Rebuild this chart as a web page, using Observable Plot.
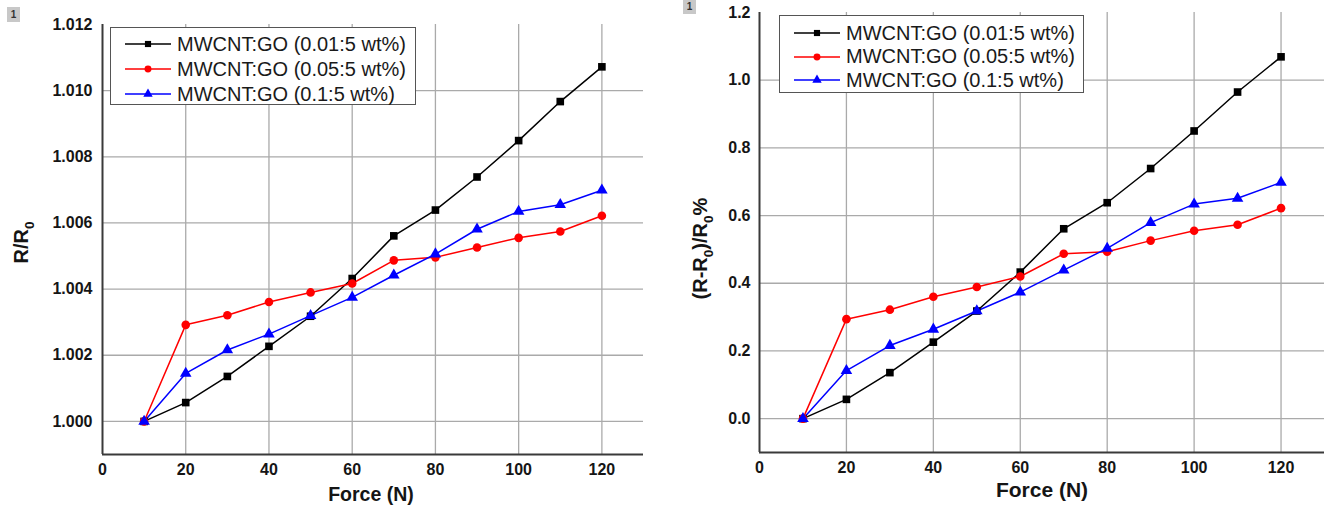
<!DOCTYPE html>
<html>
<head>
<meta charset="utf-8">
<script src="https://cdn.jsdelivr.net/npm/d3@7"></script>
<script src="https://cdn.jsdelivr.net/npm/@observablehq/plot@0.6"></script>
<style>
  html, body { margin: 0; padding: 0; background: #fff; }
  #wrap { position: relative; width: 1333px; height: 515px; overflow: hidden; font-family: "Liberation Sans", Arial, sans-serif; }
  .panel { position: absolute; top: 0; }
  .legend { position: absolute; background: #fff; border: 1.5px solid #555; box-sizing: border-box; }
  .legrow { position: absolute; left: 0; height: 24px; display: flex; align-items: center; font-size: 20px; color: #1a1a1a; white-space: nowrap; }
  .legrow svg { margin-right: 6px; }
  .icon { position: absolute; background: #c8c8c8; color: #333; font-size: 10px; font-weight: bold; text-align: center; box-sizing: border-box; }
</style>
</head>
<body>
<div id="wrap"></div>
<script>
// ---- data ----
const force = [10, 20, 30, 40, 50, 60, 70, 80, 90, 100, 110, 120];
const seriesNames = ["MWCNT:GO (0.01:5 wt%)", "MWCNT:GO (0.05:5 wt%)", "MWCNT:GO (0.1:5 wt%)"];
const seriesColors = ["#000000", "#ff0000", "#0000ff"];
const seriesSymbols = ["square", "circle", "triangle"];

// left panel: R/R0
const ratioBlack = [1.0000, 1.00057, 1.00136, 1.00227, 1.00318, 1.00432, 1.00561, 1.00639, 1.00739, 1.00849, 1.00967, 1.01072];
const ratioRed   = [1.0000, 1.00292, 1.00321, 1.00361, 1.00390, 1.00417, 1.00487, 1.00496, 1.00526, 1.00555, 1.00574, 1.00622];
const ratioBlue  = [1.0000, 1.00145, 1.00216, 1.00264, 1.00320, 1.00375, 1.00442, 1.00506, 1.00581, 1.00635, 1.00655, 1.00699];

// right panel: (R-R0)/R0 %
const pctBlack = [0, 0.057, 0.136, 0.226, 0.318, 0.433, 0.561, 0.638, 0.739, 0.850, 0.965, 1.069];
const pctRed   = [0, 0.294, 0.322, 0.360, 0.389, 0.420, 0.487, 0.493, 0.526, 0.555, 0.573, 0.622];
const pctBlue  = [0, 0.142, 0.216, 0.264, 0.318, 0.374, 0.439, 0.503, 0.579, 0.634, 0.651, 0.698];

const xTicks = [0, 20, 40, 60, 80, 100, 120];
const xGridTicks = [20, 40, 60, 80, 100, 120];
const leftYTicks = [1.000, 1.002, 1.004, 1.006, 1.008, 1.010, 1.012];
const leftYGrid = [1.000, 1.002, 1.004, 1.006, 1.008, 1.010];
const rightYTicks = [0.0, 0.2, 0.4, 0.6, 0.8, 1.0, 1.2];
const rightYGrid = [0.0, 0.2, 0.4, 0.6, 0.8, 1.0];

const xLabel = "Force (N)";
const leftYLabel = "R/R_0";
const rightYLabel = "(R-R_0)/R_0%";

// ---- helpers ----
const NS = "http://www.w3.org/2000/svg";
function subscriptify(svg, baseSize) {
  svg.querySelectorAll("text").forEach(t => {
    const s = t.textContent;
    if (!s.includes("_")) return;
    while (t.firstChild) t.removeChild(t.firstChild);
    const parts = s.split(/_(\w)/);
    const shift = baseSize * 0.3;
    let lowered = false;
    parts.forEach((p, i) => {
      if (!p) return;
      const ts = document.createElementNS(NS, "tspan");
      ts.textContent = p;
      if (i % 2 === 1) {
        ts.setAttribute("font-size", (baseSize * 0.68).toFixed(1));
        ts.setAttribute("dy", shift);
        lowered = true;
      } else if (lowered) {
        ts.setAttribute("dy", -shift);
        lowered = false;
      }
      t.appendChild(ts);
    });
  });
}

function rowsOf(valueArrays) {
  return valueArrays.flatMap((vals, i) => force.map((f, j) => ({force: f, value: vals[j], series: seriesNames[i]})));
}

function panel(o) {
  const rows = rowsOf(o.values);
  const grid = {stroke: "#aaaaaa", strokeOpacity: 1, strokeWidth: 1.3};
  const svg = Plot.plot({
    width: o.width, height: 515,
    marginLeft: o.ml, marginRight: o.mr, marginTop: o.mt, marginBottom: o.mb,
    style: {fontFamily: "'Liberation Sans', Arial, sans-serif", background: "transparent", color: "#151515", overflow: "visible"},
    x: {domain: [0, 130]},
    y: {domain: o.yDomain},
    color: {domain: seriesNames, range: seriesColors},
    symbol: {domain: seriesNames, range: seriesSymbols},
    marks: [
      Plot.gridX(xGridTicks, grid),
      Plot.gridY(o.yGrid, grid),
      Plot.ruleX([0], {stroke: "#3a3a3a", strokeWidth: 2}),
      Plot.ruleY([o.yDomain[0]], {stroke: "#3a3a3a", strokeWidth: 2}),
      Plot.axisX({ticks: xTicks, tickSize: 0, tickPadding: 9, fontSize: 16, fontWeight: "bold", label: null}),
      Plot.axisY({ticks: o.yTicks, tickFormat: d3.format(o.yFormat), tickSize: 0, tickPadding: o.ytp, fontSize: 16, fontWeight: "bold", label: null}),
      Plot.line(rows, {x: "force", y: "value", z: "series", stroke: "series", strokeWidth: 1.5}),
      Plot.dot(rows, {x: "force", y: "value", fill: "series", symbol: "series", r: 4.3}),
      Plot.text([xLabel], {frameAnchor: "bottom", textAnchor: "middle", dx: o.xlDx, dy: o.xlDy, fontSize: o.xlSize, fontWeight: "bold", fill: "#151515"}),
      Plot.text([o.yLabel], {frameAnchor: "left", textAnchor: "middle", dx: o.ylDx, dy: o.ylDy, rotate: -90, fontSize: 20, fontWeight: "bold", fill: "#151515"})
    ]
  });
  subscriptify(svg, 20);
  svg.classList.add("panel");
  svg.style.left = o.left + "px";
  return svg;
}

function legend(o) {
  const box = document.createElement("div");
  box.className = "legend";
  Object.assign(box.style, {left: o.left + "px", top: o.top + "px", width: o.w + "px", height: o.h + "px"});
  seriesNames.forEach((name, i) => {
    const row = document.createElement("div");
    row.className = "legrow";
    row.style.top = (o.rows[i] - 12) + "px";
    row.style.left = o.padL + "px";
    const sw = d3.create("svg").attr("width", 46).attr("height", 16);
    sw.append("line").attr("x1", 0).attr("x2", 46).attr("y1", 8).attr("y2", 8)
      .attr("stroke", seriesColors[i]).attr("stroke-width", 1.6);
    const sym = {square: d3.symbolSquare, circle: d3.symbolCircle, triangle: d3.symbolTriangle}[seriesSymbols[i]];
    sw.append("path").attr("transform", "translate(23,8)").attr("d", d3.symbol(sym, 38)()).attr("fill", seriesColors[i]);
    row.appendChild(sw.node());
    const span = document.createElement("span");
    span.textContent = name;
    row.appendChild(span);
    box.appendChild(row);
  });
  return box;
}

function icon(left, top, h) {
  const d = document.createElement("div");
  d.className = "icon";
  d.textContent = "1";
  Object.assign(d.style, {left: left + "px", top: top + "px", width: "13px", height: h + "px", lineHeight: h + "px"});
  return d;
}

const wrap = document.getElementById("wrap");
wrap.appendChild(panel({
  left: 0, width: 666, ml: 102, mr: 23, mt: 24, mb: 61,
  values: [ratioBlack, ratioRed, ratioBlue],
  yDomain: [0.999, 1.012], yTicks: leftYTicks, yGrid: leftYGrid, yFormat: ".3f", ytp: 10,
  yLabel: leftYLabel, ylDx: -81, ylDy: 3,
  xlDx: -2, xlDy: 46, xlSize: 19.5
}));
wrap.appendChild(panel({
  left: 666, width: 667, ml: 93, mr: 9, mt: 12, mb: 63,
  values: [pctBlack, pctRed, pctBlue],
  yDomain: [-0.1, 1.2], yTicks: rightYTicks, yGrid: rightYGrid, yFormat: ".1f", ytp: 9,
  yLabel: rightYLabel, ylDx: -59, ylDy: 16,
  xlDx: 0, xlDy: 44, xlSize: 21
}));
wrap.appendChild(legend({left: 110, top: 27, w: 306, h: 78, padL: 14, rows: [16, 41, 66]}));
wrap.appendChild(legend({left: 779, top: 15, w: 305, h: 78, padL: 14, rows: [17, 40.5, 64]}));
wrap.appendChild(icon(7, 7, 15));
wrap.appendChild(icon(683, 0, 14));
</script>
</body>
</html>
